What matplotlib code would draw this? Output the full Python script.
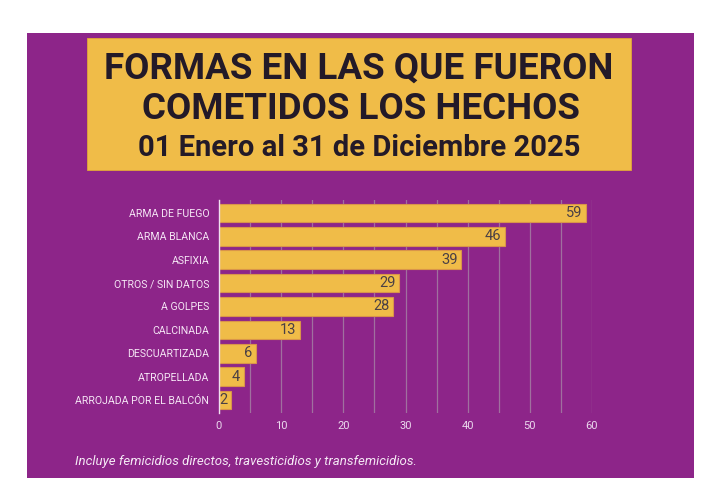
import matplotlib
matplotlib.use("Agg")
import matplotlib.pyplot as plt
from matplotlib.patches import Rectangle

categories = ["ARMA DE FUEGO", "ARMA BLANCA", "ASFIXIA", "OTROS / SIN DATOS",
              "A GOLPES", "CALCINADA", "DESCUARTIZADA", "ATROPELLADA",
              "ARROJADA POR EL BALCÓN"]
values = [59, 46, 39, 29, 28, 13, 6, 4, 2]
xticks = [0, 10, 20, 30, 40, 50, 60]
title_lines = ["FORMAS EN LAS QUE FUERON", "COMETIDOS LOS HECHOS",
               "01 Enero al 31 de Diciembre 2025"]
footnote = "Incluye femicidios directos, travesticidios y transfemicidios."

PURPLE = "#8D2589"
YELLOW = "#F0BC48"
DARK = "#231A28"

plt.rcParams['font.family'] = ['Roboto', 'DejaVu Sans']

W, H = 712, 498
fig = plt.figure(figsize=(W / 100, H / 100), dpi=100)
fig.patch.set_facecolor("white")

def fx(px):
    return px / W

def fy(py):
    return 1 - py / H

# purple panel
fig.patches.append(Rectangle((fx(27), fy(478)), fx(694) - fx(27), fy(33) - fy(478),
                             transform=fig.transFigure, facecolor=PURPLE,
                             edgecolor="none", zorder=-2))
# title box
fig.patches.append(Rectangle((fx(87), fy(170)), fx(631) - fx(87), fy(38) - fy(170),
                             transform=fig.transFigure, facecolor=YELLOW,
                             edgecolor="#E0A838", linewidth=0.6, zorder=-1))

fig.text(fx(359), fy(69), title_lines[0], ha="center", va="center",
         fontsize=26.5, fontweight="bold", color=DARK)
fig.text(fx(361), fy(109), title_lines[1], ha="center", va="center",
         fontsize=26.5, fontweight="bold", color=DARK)
fig.text(fx(359), fy(148), title_lines[2], ha="center", va="center",
         fontsize=21, fontweight="bold", color=DARK)

ax = fig.add_axes([fx(219), fy(413), fx(592) - fx(219), fy(200) - fy(413)])
ax.set_zorder(5)
ax.set_facecolor("none")
y = list(range(len(categories)))
bars = ax.barh(y, values, height=0.8, color=YELLOW, edgecolor="#D9944A",
               linewidth=0.8, zorder=3)
ax.set_ylim(len(categories) - 0.45, -0.55)
ax.set_xlim(0, 60)
ax.set_xticks(xticks)
ax.set_xticks(range(0, 61, 5), minor=True)
ax.set_xticklabels([str(t) for t in xticks], color="#EBD9EE", fontsize=8)
ax.set_yticks(y)
ax.set_yticklabels(categories, color="#F5E6F5", fontsize=7.6)
ax.tick_params(axis="y", length=0, pad=7)
ax.tick_params(axis="x", length=0, pad=6)
ax.tick_params(axis="x", which="minor", length=0)
ax.grid(axis="x", which="both", color="#A0709F", linewidth=0.9, zorder=0)
for s in ["top", "right", "bottom"]:
    ax.spines[s].set_visible(False)
ax.spines["left"].set_color("#F0E0F0")
ax.spines["left"].set_linewidth(1.0)
ax.spines["left"].set_zorder(4)

for b, v in zip(bars, values):
    ax.text(b.get_width() - 0.6, b.get_y() + b.get_height() / 2, str(v),
            ha="right", va="center", fontsize=10.5, color="#4A4045", zorder=5)

fig.text(fx(75), fy(461), footnote, ha="left", va="center", fontsize=9.5,
         style="italic", color="#F5E9F5")

fig.savefig("out.png", dpi=100, facecolor="white")
